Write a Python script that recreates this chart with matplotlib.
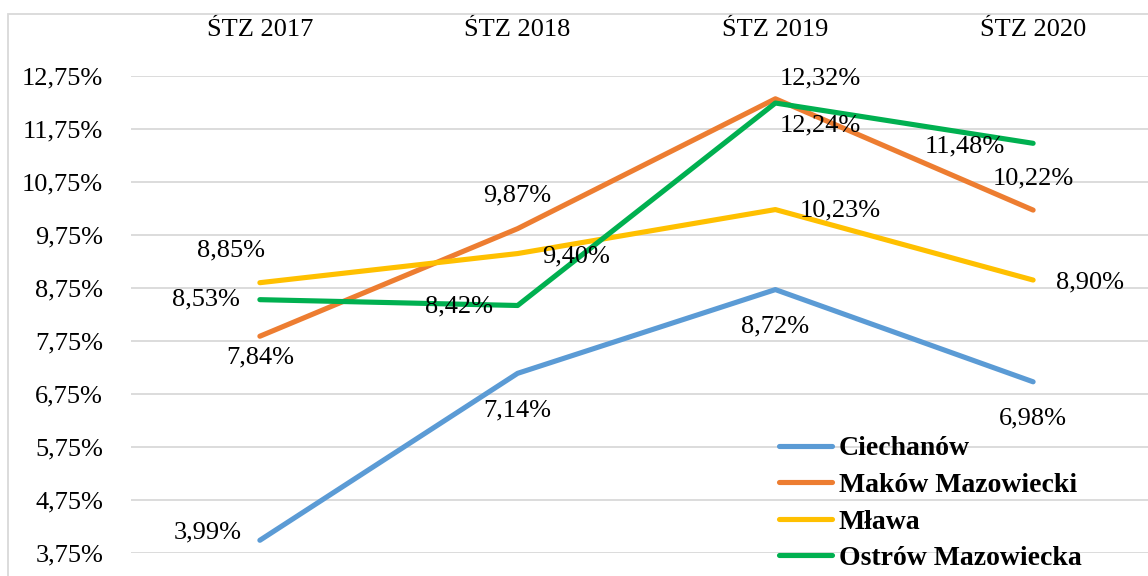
import numpy as np
import matplotlib.pyplot as plt
from matplotlib.patches import Rectangle

plt.rcParams['font.family'] = ['Liberation Serif', 'DejaVu Serif']

years = ["ŚTZ 2017", "ŚTZ 2018", "ŚTZ 2019", "ŚTZ 2020"]
names = ["Ciechanów", "Maków Mazowiecki", "Mława", "Ostrów Mazowiecka"]
ciechanow = [3.99, 7.14, 8.72, 6.98]
makow = [7.84, 9.87, 12.32, 10.22]
mlawa = [8.85, 9.40, 10.23, 8.90]
ostrow = [8.53, 8.42, 12.24, 11.48]
colors = ["#5B9BD5", "#ED7D31", "#FFC000", "#00B050"]
yticks = [3.75, 4.75, 5.75, 6.75, 7.75, 8.75, 9.75, 10.75, 11.75, 12.75]

# label offsets in pixels (dx, dy) for each point
offsets = [
    [(-52, 8), (0, -37), (0, -37), (0, -37)],
    [(0, -21), (0, 33), (45, 20), (0, 32)],
    [(-29, 32), (58, -3), (65, -1), (57, -2)],
    [(-54, 0), (-59, -1), (45, -22), (-68, -3)],
]

W, H = 1148, 576
fs = 19
fig = plt.figure(figsize=(W / 100, H / 100), dpi=100)
ax = fig.add_axes([131 / W, 1 - 553 / H, (W - 131) / W, (553 - 76) / H])

x = np.arange(len(years))
series = [ciechanow, makow, mlawa, ostrow]
for vals, name, c, offs in zip(series, names, colors, offsets):
    ax.plot(x, vals, color=c, lw=3.7, label=name, solid_capstyle='round', clip_on=False)
    for xi, v, (dx, dy) in zip(x, vals, offs):
        ax.annotate(f"{v:.2f}%".replace(".", ","), (xi, v), xytext=(dx, dy),
                    textcoords='offset pixels', ha='center', va='center', fontsize=fs)

ax.set_xlim(-0.5, 3.5 - 14 / 258)
ax.set_ylim(3.75, 12.75)
ax.set_yticks(yticks)
ax.set_yticklabels([f"{t:.2f}%".replace(".", ",") for t in yticks], fontsize=fs)
ax.set_xticks(x)
ax.set_xticklabels(years, fontsize=fs)
ax.xaxis.tick_top()
ax.tick_params(axis='x', length=0, pad=25)
ax.tick_params(axis='y', length=0, pad=20)
ax.grid(axis='y', color='#D9D9D9', lw=1.3)
ax.set_axisbelow(True)
for s in ax.spines.values():
    s.set_visible(False)

leg = ax.legend(loc='upper left', bbox_to_anchor=(779 / W, 1 - 436 / H),
                bbox_transform=fig.transFigure, frameon=False,
                prop={'weight': 'bold', 'size': 20}, handlelength=1.9, handletextpad=0.25,
                labelspacing=0.4, borderaxespad=0, borderpad=0)

fig.patches.append(Rectangle((8 / W, -0.1), 1.2, 1 - 14 / H + 0.1, transform=fig.transFigure,
                             fill=False, ec='#D9D9D9', lw=1.3))

fig.savefig("out.png", dpi=100)
